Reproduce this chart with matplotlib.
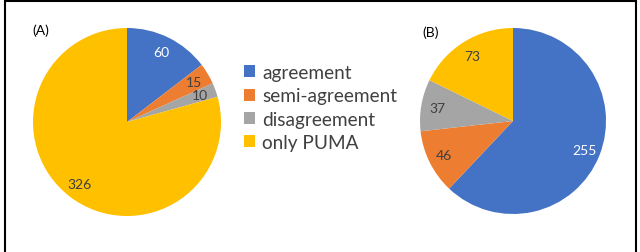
import matplotlib
matplotlib.use("Agg")
import matplotlib.pyplot as plt
from matplotlib.patches import Rectangle

categories = ["agreement", "semi-agreement", "disagreement", "only PUMA"]
values_a = [60, 15, 10, 326]
values_b = [255, 46, 37, 73]
panel_labels = ["(A)", "(B)"]
colors = ["#4472C4", "#ED7D31", "#A5A5A5", "#FFC000"]
label_colors = ["white", "#404040", "#404040", "#404040"]

plt.rcParams['font.family'] = ['Lato', 'DejaVu Sans']

W, H = 640, 253
fig = plt.figure(figsize=(6.4, 2.53), dpi=100)
ax = fig.add_axes([0, 0, 1, 1])
ax.set_xlim(0, W)
ax.set_ylim(0, H)
ax.set_aspect('equal')
ax.axis('off')

def draw(vals, center, radius):
    total = sum(vals)
    wedges, texts, autotexts = ax.pie(
        vals, colors=colors, startangle=90, counterclock=False,
        center=center, radius=radius,
        autopct=lambda p: f"{round(p * total / 100)}",
        pctdistance=0.83, wedgeprops=dict(linewidth=0),
        textprops=dict(fontsize=10))
    for t, c in zip(autotexts, label_colors):
        t.set_color(c)
    return wedges

wa = draw(values_a, (127, H - 123), 94)
wb = draw(values_b, (513, H - 122), 93)
ax.set_xlim(0, W)
ax.set_ylim(0, H)

ax.text(41, H - 31, panel_labels[0], fontsize=10, ha='center', va='center', color='black')
ax.text(431, H - 33, panel_labels[1], fontsize=10, ha='center', va='center', color='black')

leg = fig.legend(wa, categories, loc='upper left', bbox_to_anchor=(244 / W, 1 - 65 / H),
                 frameon=False, fontsize=13.7, handlelength=0.6, handleheight=0.6,
                 handletextpad=0.35, labelspacing=0.33, borderpad=0, borderaxespad=0)
for t in leg.get_texts():
    t.set_color('#404040')

fig.patches.append(Rectangle((5 / W, -0.5), 631 / W, 1.5 - 2 / H, transform=fig.transFigure,
                             fill=False, edgecolor='black', linewidth=1.5))

fig.savefig("out.png", dpi=100)
